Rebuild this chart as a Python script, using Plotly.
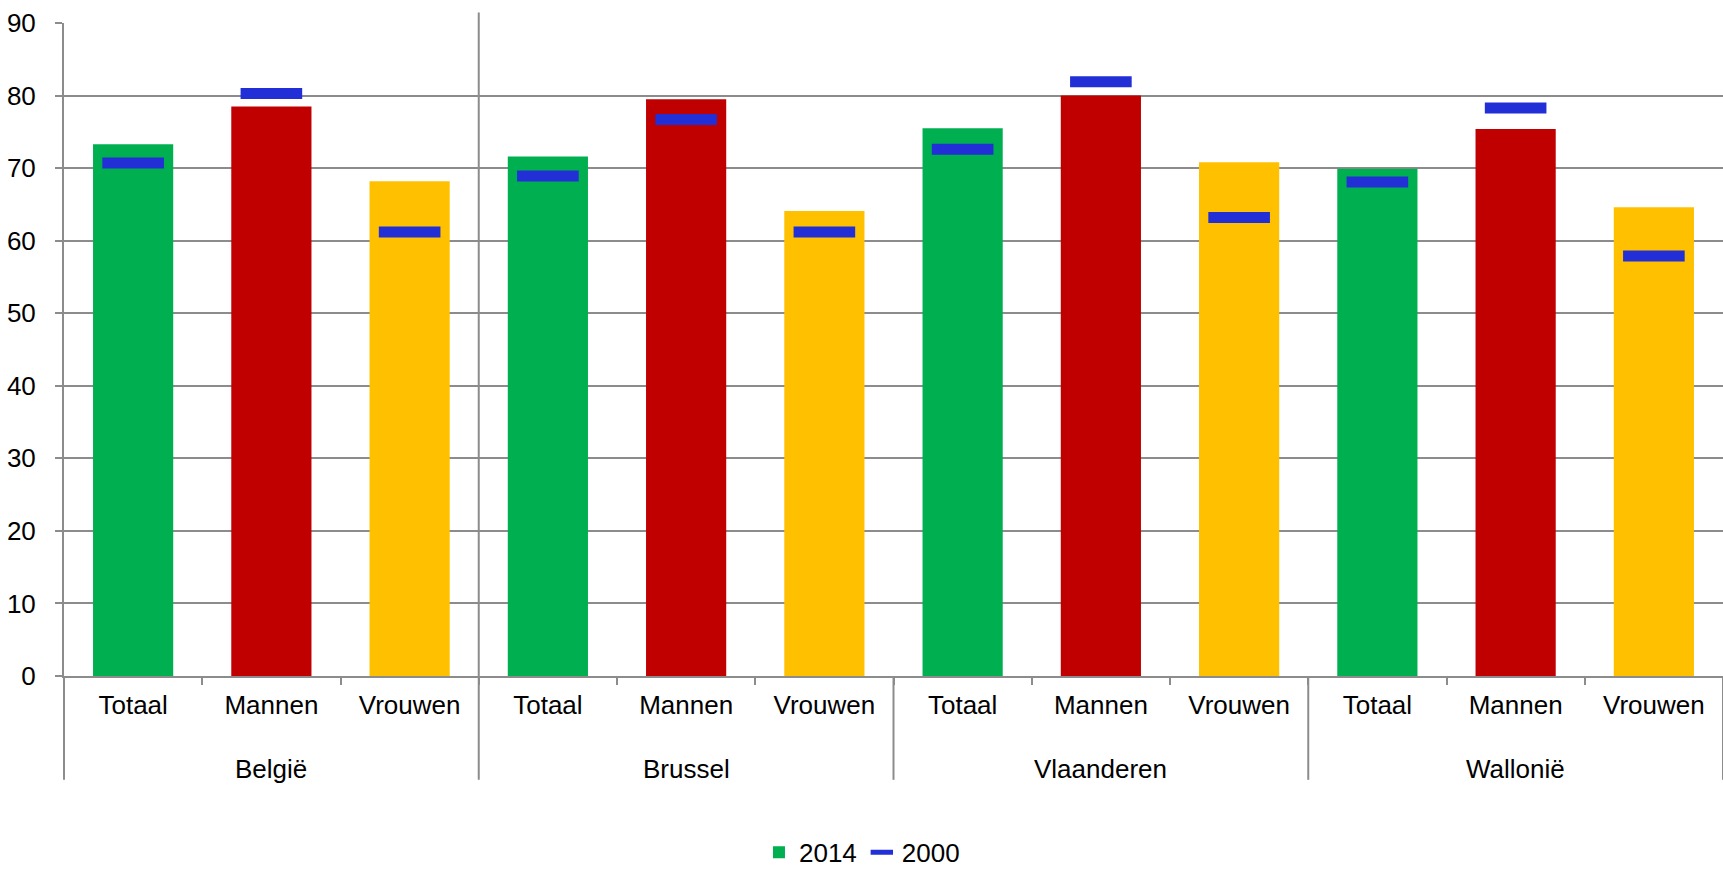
import plotly.graph_objects as go

regions = ["België", "Brussel", "Vlaanderen", "Wallonië"]
groups = ["Totaal", "Mannen", "Vrouwen"]
values_2014 = [73.3, 78.5, 68.2, 71.6, 79.5, 64.1, 75.5, 80.0, 70.8, 69.9, 75.4, 64.6]
values_2000 = [70.7, 80.3, 61.2, 68.9, 76.7, 61.2, 72.6, 81.9, 63.2, 68.1, 78.3, 57.9]
group_colors = ["#00B050", "#C00000", "#FFC000"]
y_ticks = [0, 10, 20, 30, 40, 50, 60, 70, 80, 90]

x_keys = [f"{r} – {g}" for r in regions for g in groups]
x_labels = [g for _ in regions for g in groups]
bar_colors = [group_colors[i % 3] for i in range(len(x_keys))]

FONT = "Liberation Sans, Arial, sans-serif"
GRID = "#8C8C8C"

fig = go.Figure()
fig.add_trace(go.Bar(
    x=x_keys, y=values_2014, name="2014",
    marker=dict(color=bar_colors, line=dict(width=0)),
))
fig.add_trace(go.Scatter(
    x=x_keys, y=values_2000, name="2000", mode="markers",
    marker=dict(symbol="line-ew", size=44, color="#222ED6",
                line=dict(width=11, color="#222ED6")),
))

# region labels and dividers below the axis
n_reg = len(regions)
for i, r in enumerate(regions):
    fig.add_annotation(x=x_keys[i * 3 + 1], xref="x", y=-0.1423, yref="paper",
                       text=r, showarrow=False, yanchor="middle",
                       font=dict(size=26, family=FONT, color="black"))
for i in range(n_reg + 1):
    top = 1.016 if i == 1 else 0
    fig.add_shape(type="line", xref="paper", yref="paper", x0=i / n_reg, x1=i / n_reg,
                  y0=-0.159, y1=top, line=dict(color=GRID, width=2))

fig.update_layout(
    width=1723, height=870,
    margin=dict(l=64, r=0, t=23, b=194, autoexpand=False),
    paper_bgcolor="white", plot_bgcolor="white",
    font=dict(family=FONT, size=26, color="black"),
    bargap=0.42,
    showlegend=True,
    legend=dict(orientation="h", x=0.481, xanchor="center", y=-0.27, yanchor="middle",
                font=dict(size=26), traceorder="normal", itemwidth=30),
    xaxis=dict(type="category", range=[-0.5, 11.5], tickvals=x_keys, ticktext=x_labels,
               showline=True, linecolor=GRID, linewidth=2,
               ticks="outside", ticklen=7, tickcolor=GRID, tickwidth=1.5,
               tickson="boundaries", showgrid=False, automargin=False,
               ticklabelstandoff=5, tickfont=dict(size=26)),
    yaxis=dict(range=[0, 90], tickvals=y_ticks, showgrid=True, gridcolor=GRID, gridwidth=2,
               showline=True, linecolor=GRID, linewidth=2, ticks="outside", ticklen=7,
               tickcolor=GRID, tickwidth=2, ticklabelstandoff=14, zeroline=False,
               automargin=False, tickfont=dict(size=26)),
)

fig.write_html("out.html", config={"displayModeBar": False},
               post_script="document.body.style.margin='0';document.body.style.overflow='hidden';")
